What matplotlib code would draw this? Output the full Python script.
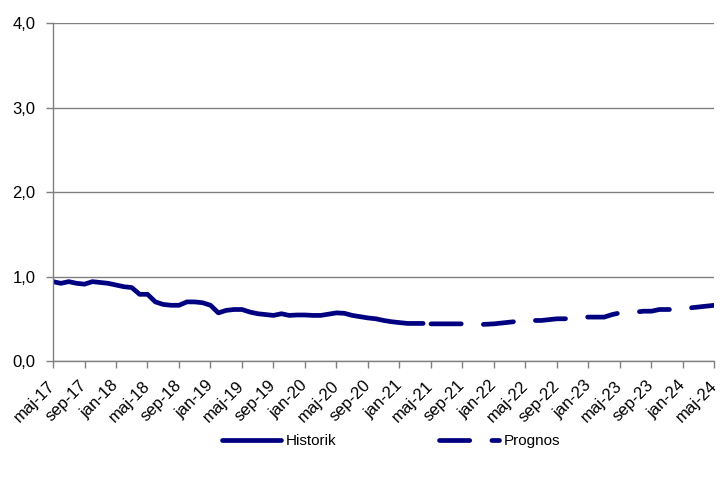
import matplotlib
matplotlib.use("Agg")
import matplotlib.pyplot as plt
import numpy as np

plt.rcParams['font.family'] = ['Liberation Sans', 'DejaVu Sans']

# Tick labels every 4 months, maj-17 .. maj-24
tick_labels = ["maj-17", "sep-17", "jan-18", "maj-18", "sep-18", "jan-19", "maj-19",
               "sep-19", "jan-20", "maj-20", "sep-20", "jan-21", "maj-21", "sep-21",
               "jan-22", "maj-22", "sep-22", "jan-23", "maj-23", "sep-23", "jan-24",
               "maj-24"]

# Monthly values, maj-17 .. apr-21 (historic)
historik = [0.94, 0.92, 0.94, 0.92, 0.91, 0.94, 0.93, 0.92, 0.90, 0.88,
            0.87, 0.79, 0.79, 0.70, 0.67, 0.66, 0.66, 0.70, 0.70, 0.69,
            0.66, 0.57, 0.60, 0.61, 0.61, 0.58, 0.56, 0.55, 0.54, 0.56,
            0.54, 0.545, 0.545, 0.54, 0.54, 0.555, 0.57, 0.565, 0.54, 0.525,
            0.51, 0.50, 0.48, 0.465, 0.455, 0.445, 0.445, 0.445]

# Monthly values, maj-21 .. maj-24 (forecast)
prognos = [0.44, 0.44, 0.44, 0.44, 0.44, 0.43, 0.43, 0.435, 0.44, 0.45,
           0.46, 0.47, 0.49, 0.48, 0.48, 0.49, 0.50, 0.50, 0.51, 0.52,
           0.52, 0.52, 0.52, 0.55, 0.57, 0.58, 0.58, 0.59, 0.59, 0.61,
           0.61, 0.61, 0.62, 0.63, 0.64, 0.65, 0.66]

navy = "#000080"
gray = "#808080"

fig = plt.figure(figsize=(7.2, 4.8), dpi=100)
ax = fig.add_axes([53/720, 1 - 361/480, (714.5 - 53)/720, (361 - 23.3)/480])

x_hist = np.arange(len(historik))
x_prog = np.arange(len(historik), len(historik) + len(prognos))

ax.plot(x_hist, historik, color=navy, lw=3.4, solid_capstyle='round',
        solid_joinstyle='round', label="Historik")
ax.plot(x_prog, prognos, color=navy, lw=3.4, dash_capstyle='round',
        dash_joinstyle='round', dashes=(6.4, 4.7), label="Prognos")

n_total = len(historik) + len(prognos)
ax.set_xlim(0, n_total - 1)
ax.set_ylim(0, 4)

ax.set_xticks(np.arange(0, n_total, 4))
ax.set_xticklabels(tick_labels, rotation=45, ha='right', va='center',
                   rotation_mode='anchor', fontsize=12)
ax.set_yticks([0, 1, 2, 3, 4])
ax.set_yticklabels(["0,0", "1,0", "2,0", "3,0", "4,0"], fontsize=12)

ax.grid(axis='y', color=gray, lw=1)
ax.set_axisbelow(True)
for s in ['top', 'right']:
    ax.spines[s].set_visible(False)
for s in ['left', 'bottom']:
    ax.spines[s].set_color(gray)
    ax.spines[s].set_linewidth(1)
ax.tick_params(axis='both', color=gray, length=5, width=1, labelcolor='black')
ax.tick_params(axis='y', pad=7.5)
ax.tick_params(axis='x', pad=11)

fig.legend(loc='center', bbox_to_anchor=(0.543, 0.081), ncol=2, frameon=False,
           fontsize=11, handlelength=3.9, handletextpad=0.33, columnspacing=6.7)

fig.savefig("out.png", dpi=100)
